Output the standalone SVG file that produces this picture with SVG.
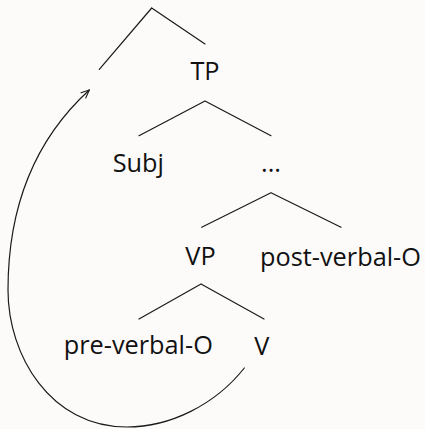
<svg xmlns="http://www.w3.org/2000/svg" width="425" height="429" viewBox="0 0 425 429">
  <defs>
    <style>
      .edge { stroke: #1a1a1a; stroke-width: 1.2; fill: none; stroke-linecap: round; }
      .lbl { font-family: "Open Sans", "Noto Sans", sans-serif; font-size: 25.3px; fill: #111; text-anchor: middle; }
    </style>
    <marker id="arr" viewBox="0 0 10 10" refX="9" refY="5" markerWidth="10" markerHeight="10" markerUnits="userSpaceOnUse" orient="auto">
      <path d="M1,1.5 L9,5 L1,8.5" fill="none" stroke="#1a1a1a" stroke-width="1.1" stroke-linecap="round" stroke-linejoin="round"/>
    </marker>
  </defs>
  <rect width="425" height="429" fill="#fdfbf9"/>
  <g id="connectors">
    <path class="edge" d="M151.7,8 L99.3,69.3 M151.7,8 L205,44"/>
    <path class="edge" d="M205,101 L139,135.7 M205,101 L271,135.7"/>
    <path class="edge" d="M271,192.7 L201.7,227.3 M271,192.7 L341,227.3"/>
    <path class="edge" d="M201,284 L139,319 M201,284 L264,319"/>
    <path class="edge" marker-end="url(#arr)" d="M244.3,368 C215,405 170,427 127,427 C50,427 8,355 8,290 C8,200 40,135 89.3,90"/>
  </g>
  <g id="node-TP"><text class="lbl" x="205" y="80">TP</text></g>
  <g id="node-Subj"><text class="lbl" x="138.3" y="171.7">Subj</text></g>
  <g id="node-dots"><text class="lbl" x="271" y="171.7">...</text></g>
  <g id="node-VP"><text class="lbl" x="200.5" y="265">VP</text></g>
  <g id="node-postO"><text class="lbl" x="340.5" y="266">post-verbal-O</text></g>
  <g id="node-preO"><text class="lbl" x="138.3" y="353.5">pre-verbal-O</text></g>
  <g id="node-V"><text class="lbl" x="261.7" y="355">V</text></g>
</svg>
